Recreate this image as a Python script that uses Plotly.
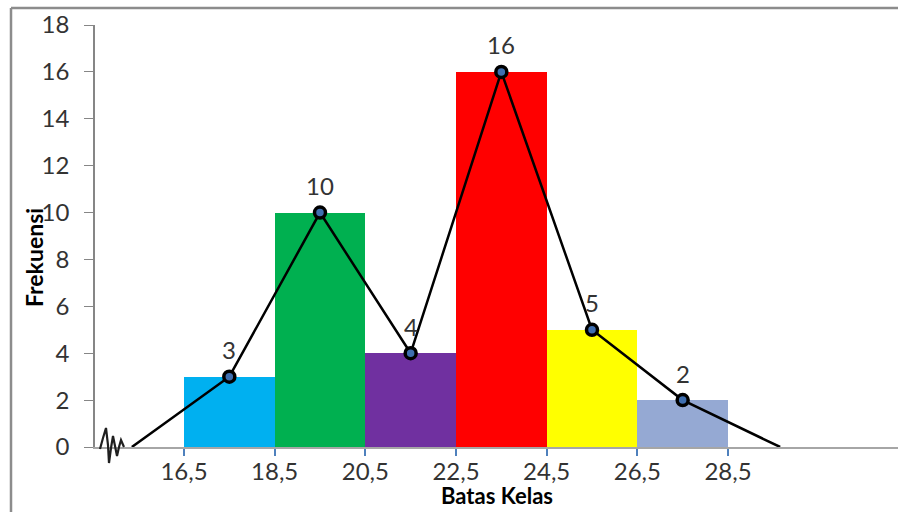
import plotly.graph_objects as go

# ---- data ----
class_lower = [16.5, 18.5, 20.5, 22.5, 24.5, 26.5]
class_upper = [18.5, 20.5, 22.5, 24.5, 26.5, 28.5]
frequencies = [3, 10, 4, 16, 5, 2]
bar_colors = ["#00B0F0", "#00B050", "#7030A0", "#FF0000", "#FFFF00", "#95A9D3"]
tick_values = [16.5, 18.5, 20.5, 22.5, 24.5, 26.5, 28.5]
tick_labels = ["16,5", "18,5", "20,5", "22,5", "24,5", "26,5", "28,5"]
poly_start_x = 15.35
poly_end_x = 29.65
y_ticks = [0, 2, 4, 6, 8, 10, 12, 14, 16, 18]

midpoints = [(a + b) / 2 for a, b in zip(class_lower, class_upper)]
widths = [b - a for a, b in zip(class_lower, class_upper)]

W, H = 898, 512
L, R, T, B = 95, 0, 25, 65
XR = [14.537, 32.25]
YR = [0, 18]
FONT = "Lato, 'Open Sans', sans-serif"
TXT = "#333333"
FS = 24

fig = go.Figure()
fig.add_trace(go.Bar(x=midpoints, y=frequencies, width=widths,
                     marker=dict(color=bar_colors, line=dict(width=0)),
                     hoverinfo="x+y", showlegend=False))
fig.add_trace(go.Scatter(x=[poly_start_x] + midpoints + [poly_end_x],
                         y=[0] + frequencies + [0], mode="lines",
                         line=dict(color="black", width=2.5), showlegend=False,
                         hoverinfo="skip"))
fig.add_trace(go.Scatter(x=midpoints, y=frequencies, mode="markers",
                         marker=dict(size=11, color="#3F6FB0",
                                     line=dict(color="black", width=3.5)),
                         showlegend=False))

for xm, f in zip(midpoints, frequencies):
    fig.add_annotation(x=xm, y=f, text=str(f), showarrow=False, yshift=27,
                       font=dict(family=FONT, size=FS, color=TXT))

pw, ph = W - L - R, H - T - B


def px2paper(px, py):
    return ((px - L) / pw, (H - B - py) / ph)


# axis-break squiggle (decoration)
sq_px = [(100, 449), (103, 438), (106, 428), (108, 445), (109, 463),
         (111, 448), (113, 436), (115, 446), (117, 456), (119, 447),
         (121, 440), (124, 447)]
pts = [px2paper(a, b) for a, b in sq_px]
path = "M " + " L ".join(f"{x:.5f},{y:.5f}" for x, y in pts)
fig.add_shape(type="path", path=path, xref="paper", yref="paper",
              line=dict(color="#202020", width=2.2), layer="above")

# outer border (top and left)
bx0 = (11 - L) / pw
by1 = (H - B - 8) / ph
fig.add_shape(type="line", xref="paper", yref="paper", x0=bx0, x1=1.02,
              y0=by1, y1=by1, line=dict(color="#8C8C8C", width=2.5))
fig.add_shape(type="line", xref="paper", yref="paper", x0=bx0, x1=bx0,
              y0=by1, y1=-0.3, line=dict(color="#8C8C8C", width=2.5))

# axis titles
fx, fy = px2paper(34, 258)
fig.add_annotation(text="<b>Frekuensi</b>", xref="paper", yref="paper",
                   x=fx, y=fy, xanchor="center", yanchor="middle", textangle=-90,
                   showarrow=False, font=dict(family=FONT, size=23, color="black"))
bx, by = px2paper(497, 495)
fig.add_annotation(text="<b>Batas Kelas</b>", xref="paper", yref="paper",
                   x=bx, y=by, xanchor="center", yanchor="middle",
                   showarrow=False, font=dict(family=FONT, size=22, color="black"))

fig.update_layout(
    width=W, height=H, margin=dict(l=L, r=R, t=T, b=B),
    paper_bgcolor="white", plot_bgcolor="white", bargap=0,
    xaxis=dict(range=XR, tickvals=tick_values, ticktext=tick_labels,
               showgrid=False, zeroline=False, showline=True,
               linecolor="#A6A6A6", linewidth=2, ticks="outside",
               tickcolor="#4F81BD", ticklen=7, tickwidth=2,
               ticklabelstandoff=-5,
               tickfont=dict(family=FONT, size=FS, color=TXT)),
    yaxis=dict(range=YR, tickvals=y_ticks, showgrid=False, zeroline=False,
               showline=True, linecolor="#868686", linewidth=1.5,
               ticks="outside", tickcolor="#868686", ticklen=9,
               ticklabelstandoff=10,
               tickfont=dict(family=FONT, size=FS, color=TXT)),
)

fig.write_html("out.html")
